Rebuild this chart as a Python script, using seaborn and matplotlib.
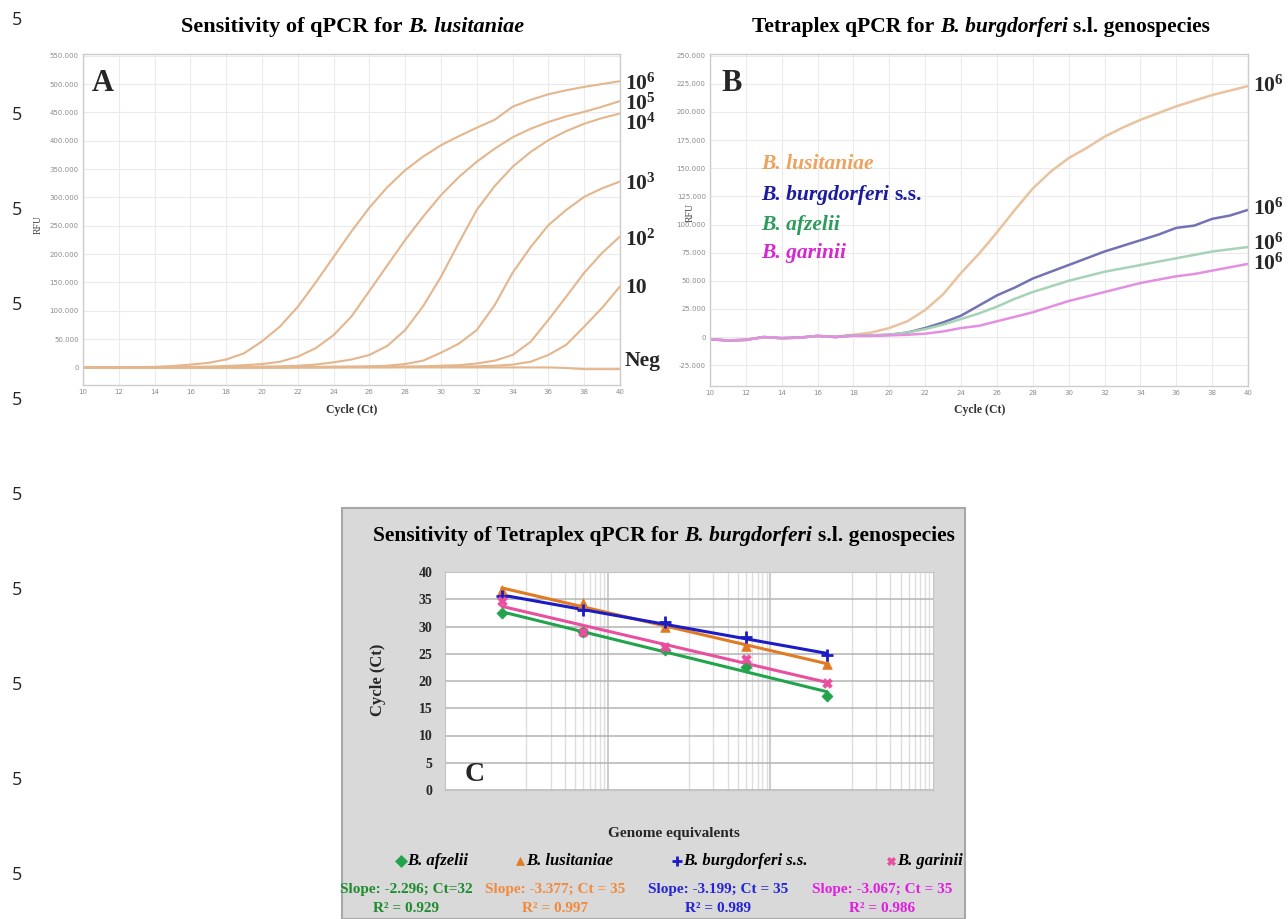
import matplotlib
matplotlib.use('Agg')
import matplotlib.pyplot as plt
import matplotlib.ticker as mticker
from matplotlib.lines import Line2D
from matplotlib.patches import Rectangle
import numpy as np
import pandas as pd
import seaborn as sns

# ---- data -------------------------------------------------------------
cycles = list(range(10, 41))

# Panel A: dilution series of B. lusitaniae (RFU, thousands)
dilutions = ['1e6', '1e5', '1e4', '1e3', '1e2', '10', 'Neg']
a_1e6 = [0, 0, 0, 0.5, 1, 2.5, 5, 8, 14, 25, 46, 72, 107, 150, 195, 240, 282, 318,
         348, 372, 392, 408, 423, 437, 460, 472, 482, 489, 495, 500, 505]
a_1e5 = [0, 0, 0, 0, 0, 0.5, 1, 1.5, 2.5, 4, 6, 10, 19, 34, 57, 90, 135, 180,
         225, 266, 304, 336, 363, 386, 406, 421, 433, 443, 451, 460, 470]
a_1e4 = [0, 0, 0, 0, 0, 0, 0.5, 0.5, 1, 1, 1.5, 2, 3, 5, 9, 14, 22, 38,
         66, 108, 160, 220, 278, 320, 354, 380, 401, 417, 430, 440, 448]
a_1e3 = [0, 0, 0, 0, 0, 0, 0, 0, 0, 0, 0.5, 0.5, 1, 1, 1.5, 1.5, 2, 3,
         6, 12, 26, 42, 66, 110, 167, 212, 251, 278, 301, 316, 328]
a_1e2 = [0, 0, 0, 0, 0, 0, 0, 0, 0, 0, 0, 0, 0.5, 0.5, 0.5, 1, 1, 1,
         1.5, 2, 3, 4, 7, 12, 22, 45, 84, 125, 167, 202, 231]
a_1e1 = [0, 0, 0, 0, 0, 0, 0, 0, 0, 0, 0, 0, 0, 0, 0.5, 0.5, 0.5, 0.5,
         1, 1, 1, 1.5, 2, 3, 5, 10, 22, 40, 72, 105, 143]
a_neg = [0, 0, 0, 0, 0, 0, 0, 0, 0, 0, 0, 0, 0, 0, 0, 0, 0, 0,
         0, 0, 0, 0, 0, 0, 0, 0, 0, -1, -3, -3, -3]
a_labels = [r'$\mathbf{10^6}$', r'$\mathbf{10^5}$', r'$\mathbf{10^4}$', r'$\mathbf{10^3}$',
            r'$\mathbf{10^2}$', '10', 'Neg']
a_label_y = [84, 104, 124, 184, 240, 288, 361]

# Panel B: tetraplex, 10^6 copies each (RFU, thousands)
species = ['B. lusitaniae', 'B. burgdorferi s.s.', 'B. afzelii', 'B. garinii']
b_lus = [-2, -3, -2.5, 0, -1, -0.5, 1, 0.5, 2, 4, 8, 14, 24, 38, 57, 74, 93, 113,
         132, 147, 159, 168, 178, 186, 193, 199, 205, 210, 215, 219, 223]
b_bur = [-2, -3, -2.5, 0, -1, -0.5, 1, 0, 1.5, 1.5, 2, 4, 8, 13, 19, 28, 37, 44,
         52, 58, 64, 70, 76, 81, 86, 91, 97, 99, 105, 108, 113]
b_afz = [-2, -3, -2.5, 0, -1, -0.5, 1, 0, 1.5, 1.5, 2, 4, 7, 11, 16, 21, 27, 34,
         40, 45, 50, 54, 58, 61, 64, 67, 70, 73, 76, 78, 80]
b_gar = [-2, -3, -2.5, 0, -1, -0.5, 1, 0, 1, 1, 1.5, 2, 3, 5, 8, 10, 14, 18,
         22, 27, 32, 36, 40, 44, 48, 51, 54, 56, 59, 62, 65]
b_label_y = [86, 209, 244, 264]

# Panel C: standard curves
genome_eq = [5, 50, 500, 5000, 50000]
ct_afzelii = [32.4, 29.0, 25.6, 22.5, 17.3]
ct_lusitaniae = [36.7, 34.3, 29.9, 26.5, 23.2]
ct_burgdorferi = [35.6, 33.0, 30.8, 28.0, 24.7]
ct_garinii = [34.7, 28.9, 26.3, 24.0, 19.7]
c_names = ['B. afzelii', 'B. lusitaniae', 'B. burgdorferi s.s.', 'B. garinii']
c_slopes = ['Slope: -2.296; Ct=32', 'Slope: -3.377; Ct = 35',
            'Slope: -3.199; Ct = 35', 'Slope: -3.067; Ct = 35']
c_r2 = ['R\u00b2 = 0.929', 'R\u00b2 = 0.997', 'R\u00b2 = 0.989', 'R\u00b2 = 0.986']

# ---- style ------------------------------------------------------------
sns.set_style('white')
plt.rcParams['font.family'] = ['Liberation Serif', 'DejaVu Serif']
plt.rcParams['mathtext.fontset'] = 'custom'
plt.rcParams['mathtext.rm'] = 'Liberation Serif'
plt.rcParams['mathtext.bf'] = 'Liberation Serif:bold'
plt.rcParams['mathtext.it'] = 'Liberation Serif:italic'

W, H = 1288, 919


def box(l, t, r, b):
    return [l / W, 1 - b / H, (r - l) / W, (b - t) / H]


def fx(x):
    return x / W


def fy(y):
    return 1 - y / H


def rich(fig, x, y, parts, size, ha='center'):
    # draw a line of text made of pieces with different styles
    rend = fig.canvas.get_renderer()
    t1 = fig.text(0, 0, 'a a', fontsize=size, fontweight='bold')
    t2 = fig.text(0, 0, 'aa', fontsize=size, fontweight='bold')
    space = t1.get_window_extent(rend).width - t2.get_window_extent(rend).width
    t1.remove()
    t2.remove()
    items = []
    for s, style, color in parts:
        lead = len(s) - len(s.lstrip(' '))
        trail = len(s) - len(s.rstrip(' '))
        t = fig.text(0, fy(y), s.strip(), fontsize=size, fontweight='bold',
                     fontstyle=style, color=color, va='center', ha='left')
        w = t.get_window_extent(rend).width
        items.append((t, lead * space, w, trail * space))
    total = sum(a + b + c for _, a, b, c in items)
    cur = x - total / 2 if ha == 'center' else x
    for t, a, b, c in items:
        cur += a
        t.set_x(fx(cur))
        cur += b + c


def rfu_fmt(v, p):
    return '0' if v == 0 else f'{int(round(v / 1000))}.000'


def curve_axes(ax, yticks, ylim):
    ax.set_xlim(10, 40)
    ax.set_ylim(ylim)
    ax.set_xticks(range(10, 41, 2))
    ax.set_yticks(yticks)
    ax.yaxis.set_major_formatter(mticker.FuncFormatter(rfu_fmt))
    ax.tick_params(labelsize=5, colors='#8c8c8c', length=0, pad=3,
                   labelfontfamily='DejaVu Sans')
    ax.grid(True, color='#ebebeb', lw=0.8)
    for s in ax.spines.values():
        s.set_color('#cccccc')
        s.set_linewidth(1)
    ax.set_xlabel('')
    ax.set_ylabel('')


fig = plt.figure(figsize=(W / 100, H / 100), dpi=100)

# ---- panel A ----------------------------------------------------------
axA = fig.add_axes(box(83, 54, 620, 385))
a_all = [a_1e6, a_1e5, a_1e4, a_1e3, a_1e2, a_1e1, a_neg]
dfA = pd.DataFrame({'cycle': cycles * len(a_all),
                    'rfu': np.concatenate(a_all) * 1000,
                    'dilution': np.repeat(dilutions, len(cycles))})
sns.lineplot(data=dfA, x='cycle', y='rfu', units='dilution', estimator=None,
             color='#e3b68d', lw=1.5, ax=axA)
curve_axes(axA, range(0, 550001, 50000), (-31000, 553000))
axA.text(0.017, 0.91, 'A', transform=axA.transAxes, fontsize=22, fontweight='bold',
         va='center', ha='left')
for lab, y in zip(a_labels, a_label_y):
    fig.text(fx(625), fy(y), lab, fontsize=15.5, fontweight='bold', va='center', ha='left')
rich(fig, 353, 27, [('Sensitivity of qPCR for ', 'normal', 'black'),
                    ('B. lusitaniae', 'italic', 'black')], 16)
fig.text(fx(352), fy(410), 'Cycle (Ct)', fontsize=8.5, fontweight='bold', ha='center',
         va='center', color='#333333')
fig.text(fx(38), fy(225), 'RFU', fontsize=7, rotation=90, ha='center', va='center',
         color='#444444')

# ---- panel B ----------------------------------------------------------
axB = fig.add_axes(box(710, 54, 1248, 386))
b_all = [b_lus, b_bur, b_afz, b_gar]
dfB = pd.DataFrame({'cycle': cycles * len(b_all),
                    'rfu': np.concatenate(b_all) * 1000,
                    'species': np.repeat(species, len(cycles))})
b_line_cols = {'B. lusitaniae': '#e8c39e', 'B. burgdorferi s.s.': '#7272b4',
               'B. afzelii': '#a6d3b6', 'B. garinii': '#e48fe0'}
sns.lineplot(data=dfB, x='cycle', y='rfu', hue='species', palette=b_line_cols,
             lw=1.8, legend=False, ax=axB)
curve_axes(axB, range(-25000, 250001, 25000), (-43500, 251500))
axB.text(0.022, 0.91, 'B', transform=axB.transAxes, fontsize=22, fontweight='bold',
         va='center', ha='left')
for y in b_label_y:
    fig.text(fx(1253), fy(y), r'$\mathbf{10^6}$', fontsize=15.5, va='center', ha='left')
b_txt_cols = ['#eda25e', '#1b1b9c', '#2d9b5c', '#d528d0']
b_txt_y = [164, 195, 225, 253]
for name, col, y in zip(species, b_txt_cols, b_txt_y):
    if name.endswith('s.s.'):
        rich(fig, 761, y, [('B. burgdorferi ', 'italic', col), ('s.s.', 'normal', col)],
             15.5, ha='left')
    else:
        rich(fig, 761, y, [(name, 'italic', col)], 15.5, ha='left')
rich(fig, 981, 27, [('Tetraplex qPCR for ', 'normal', 'black'),
                    ('B. burgdorferi', 'italic', 'black'),
                    (' s.l. genospecies', 'normal', 'black')], 15.5)
fig.text(fx(980), fy(410), 'Cycle (Ct)', fontsize=8.5, fontweight='bold', ha='center',
         va='center', color='#333333')
fig.text(fx(690), fy(213), 'RFU', fontsize=7, rotation=90, ha='center', va='center',
         color='#444444')

# ---- panel C ----------------------------------------------------------
fig.add_artist(Rectangle((fx(342), 0), fx(965) - fx(342), fy(508), transform=fig.transFigure,
                         facecolor='#d9d9d9', edgecolor='#a8a8a8', lw=1.5, zorder=-5))
axC = fig.add_axes(box(445, 572, 933, 790))
axC.set_facecolor('white')
c_series = [ct_afzelii, ct_lusitaniae, ct_burgdorferi, ct_garinii]
c_cols = ['#22a44c', '#e27a22', '#1c1cc6', '#e84f9e']
c_marks = ['D', '^', '+', 'X']
c_sizes = [32, 48, 70, 48]
for ys, col, mk, sz in zip(c_series, c_cols, c_marks, c_sizes):
    sns.regplot(x=np.array(genome_eq, float), y=np.array(ys), logx=True, ci=None,
                color=col, marker=mk, ax=axC,
                scatter_kws={'s': sz, 'alpha': 1, 'linewidths': 2 if mk == '+' else 0.5,
                             'zorder': 4},
                line_kws={'lw': 2.2, 'zorder': 3})
axC.set_xscale('log')
axC.set_xlim(1, 1e6)
axC.set_ylim(0, 40)
axC.xaxis.set_major_locator(mticker.NullLocator())
axC.xaxis.set_minor_locator(mticker.NullLocator())
axC.set_yticks(range(0, 41, 5))
for k in range(1, 10):
    for n in (1, 3, 5):
        axC.axvline(k * 10 ** n, color='#dedede', lw=1, zorder=0)
for v in (100, 1e4):
    axC.axvline(v, color='#c4c4c4', lw=1.2, zorder=0)
axC.grid(axis='y', color='#b4b4b4', lw=1.1)
axC.set_axisbelow(True)
for s in axC.spines.values():
    s.set_color('#c4c4c4')
axC.tick_params(axis='y', length=0, pad=9, labelsize=10)
for lab in axC.get_yticklabels():
    lab.set_fontweight('bold')
axC.set_xlabel('')
axC.set_ylabel('')
axC.text(0.04, 0.07, 'C', transform=axC.transAxes, fontsize=20, fontweight='bold',
         va='center', ha='left')
rich(fig, 664, 536, [('Sensitivity of Tetraplex qPCR for ', 'normal', 'black'),
                     ('B. burgdorferi', 'italic', 'black'),
                     (' s.l. genospecies', 'normal', 'black')], 15.5)
fig.text(fx(378), fy(680), 'Cycle (Ct)', fontsize=12, fontweight='bold', rotation=90,
         ha='center', va='center')
fig.text(fx(674), fy(834), 'Genome equivalents', fontsize=11, fontweight='bold',
         ha='center', va='center')

leg_x = [401, 520, 677, 891]
for name, col, mk, x in zip(c_names, c_cols, c_marks, leg_x):
    fig.add_artist(Line2D([fx(x)], [fy(861)], marker=mk, color=col, ms=6 if mk != '+' else 7,
                          mew=2 if mk == '+' else 0.5, ls='none', transform=fig.transFigure))
    rich(fig, x + 6, 861, [(name, 'italic', 'black')], 12, ha='left')

slope_cols = ['#1e8c2e', '#f08a3c', '#2424d4', '#e01ee0']
slope_x = [406, 555, 718, 882]
for s, r, col, x in zip(c_slopes, c_r2, slope_cols, slope_x):
    fig.text(fx(x), fy(889), s, fontsize=11, fontweight='bold', color=col,
             ha='center', va='center')
    fig.text(fx(x), fy(908), r, fontsize=11, fontweight='bold', color=col,
             ha='center', va='center')

# page margin numbers
for y in range(20, 900, 95):
    fig.text(fx(17), fy(y), '5', fontsize=13, family='Open Sans', ha='center', va='center')

fig.savefig('out.png', dpi=100)
